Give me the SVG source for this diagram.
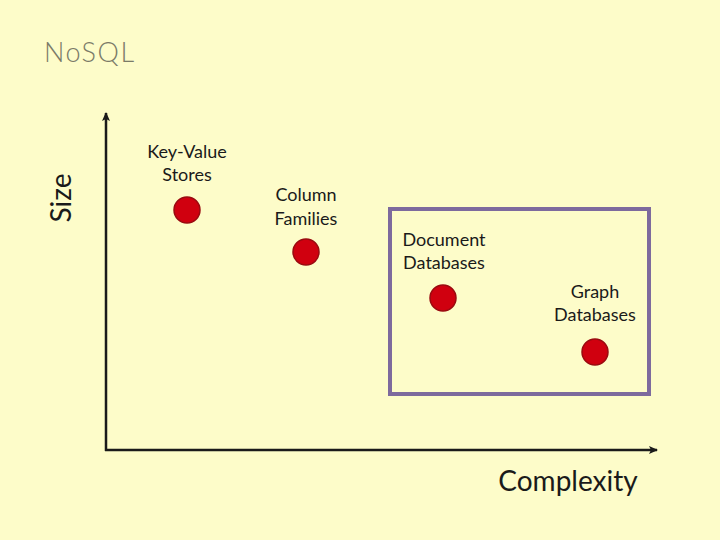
<svg xmlns="http://www.w3.org/2000/svg" width="720" height="540" viewBox="0 0 720 540">
<style>
.lbl{font-family:Lato,"Open Sans","Liberation Sans",sans-serif;font-size:18px;fill:#1a1a1a;text-anchor:middle}
.ax{font-family:Lato,"Open Sans","Liberation Sans",sans-serif;font-size:28px;fill:#1a1a1a;text-anchor:middle}
.dot{fill:#d0000f;stroke:#9a0a10;stroke-width:1.5}
.axis{stroke:#1a1a1a;stroke-width:2.5;fill:none}
</style>
<defs>
<marker id="ah" markerWidth="10" markerHeight="10" refX="8" refY="5" orient="auto" markerUnits="userSpaceOnUse">
<path d="M0,1 L9,5 L0,9 L2,5 Z" fill="#1a1a1a"/>
</marker>
</defs>
<rect width="720" height="540" fill="#fdfcc9"/>
<text x="44" y="62" font-family="Lato,'Open Sans','Liberation Sans',sans-serif" font-weight="300" font-size="27" letter-spacing="1.5" fill="#7a7a68">NoSQL</text>
<g id="connectors">
<line class="axis" x1="106" y1="451" x2="106" y2="113" marker-end="url(#ah)"/>
<line class="axis" x1="105" y1="450" x2="657" y2="450" marker-end="url(#ah)"/>
</g>
<g id="axis-labels">
<text class="ax" x="0" y="0" transform="translate(71,198) rotate(-90)">Size</text>
<text class="ax" x="568" y="491">Complexity</text>
</g>
<g id="box">
<rect x="390" y="209" width="259" height="185" fill="none" stroke="#7d6a9d" stroke-width="4"/>
</g>
<g id="kv">
<text class="lbl" x="187" y="158">Key-Value</text>
<text class="lbl" x="187" y="181">Stores</text>
<circle class="dot" cx="187" cy="210" r="13"/>
</g>
<g id="cf">
<text class="lbl" x="306" y="201">Column</text>
<text class="lbl" x="306" y="225">Families</text>
<circle class="dot" cx="306" cy="252" r="13"/>
</g>
<g id="doc">
<text class="lbl" x="444" y="246">Document</text>
<text class="lbl" x="444" y="269">Databases</text>
<circle class="dot" cx="443" cy="298" r="13"/>
</g>
<g id="graph">
<text class="lbl" x="595" y="298">Graph</text>
<text class="lbl" x="595" y="321">Databases</text>
<circle class="dot" cx="595" cy="352" r="13"/>
</g>
</svg>
